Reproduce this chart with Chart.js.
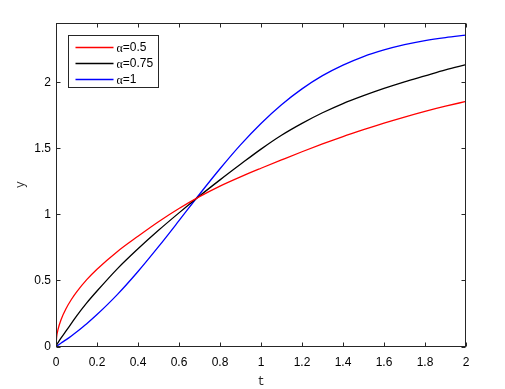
<!DOCTYPE html>
<html>
<head>
<meta charset="utf-8">
<script src="https://cdn.jsdelivr.net/npm/chart.js@4.4.0/dist/chart.umd.min.js"></script>
<style>
  html, body { margin: 0; padding: 0; background: #fff; }
  #wrap { width: 505px; height: 389px; position: relative; }
</style>
</head>
<body>
<div id="wrap"><canvas id="plot" width="505" height="389"></canvas></div>
<script>
// ---------------- DATA ----------------
const seriesLabels = ["\u03b1=0.5", "\u03b1=0.75", "\u03b1=1"];
const seriesColors = ["#ff0000", "#000000", "#0000ff"];

const tValues = [0, 0.003, 0.01, 0.025, 0.05, 0.075, 0.1, 0.15, 0.2, 0.3, 0.4, 0.5, 0.6, 0.7, 0.8, 0.9,
                 1.0, 1.1, 1.2, 1.3, 1.4, 1.5, 1.6, 1.7, 1.8, 1.9, 2.0];
const yAlpha05 = [0, 0.07, 0.129, 0.205, 0.29, 0.356, 0.412, 0.506, 0.585, 0.72, 0.835, 0.945, 1.045,
                  1.135, 1.215, 1.285, 1.35, 1.413, 1.475, 1.534, 1.59, 1.642, 1.692, 1.738, 1.781, 1.82, 1.856];
const yAlpha075 = [0, 0.012, 0.03, 0.065, 0.12, 0.175, 0.23, 0.33, 0.42, 0.59, 0.74, 0.88, 1.012, 1.14,
                   1.262, 1.38, 1.495, 1.6, 1.69, 1.77, 1.84, 1.9, 1.955, 2.005, 2.05, 2.095, 2.135];
const yAlpha1 = [0, 0.003, 0.01, 0.026, 0.052, 0.08, 0.11, 0.173, 0.242, 0.395, 0.568, 0.756, 0.953, 1.153,
                 1.346, 1.527, 1.689, 1.831, 1.951, 2.051, 2.131, 2.196, 2.246, 2.286, 2.317, 2.34, 2.358];

const xTicks = [0, 0.2, 0.4, 0.6, 0.8, 1, 1.2, 1.4, 1.6, 1.8, 2];
const yTicks = [0, 0.5, 1, 1.5, 2];

// ---------------- HELPERS ----------------
const toPoints = ys => tValues.map((t, i) => ({ x: t, y: ys[i] }));
const axisColor = "#262626";

const seriesData = [yAlpha05, yAlpha075, yAlpha1];

// box, inward ticks on all four sides, and the legend
const matlabBox = {
  id: "matlabBox",
  afterDatasetsDraw(chart) {
    const { ctx, chartArea: a, scales } = chart;
    const L = Math.round(a.left) + 0.5, R = Math.round(a.right) - 0.5;
    const T = Math.round(a.top) + 0.5, B = Math.round(a.bottom) - 0.5;
    const tick = 4;
    ctx.save();
    ctx.strokeStyle = axisColor;
    ctx.lineWidth = 1;
    ctx.strokeRect(L, T, R - L, B - T);
    ctx.beginPath();
    xTicks.forEach(v => {
      const px = Math.round(scales.x.getPixelForValue(v)) + 0.5;
      ctx.moveTo(px, B); ctx.lineTo(px, B - tick);
      ctx.moveTo(px, T); ctx.lineTo(px, T + tick);
    });
    yTicks.forEach(v => {
      const py = Math.round(scales.y.getPixelForValue(v)) + 0.5;
      ctx.moveTo(L, py); ctx.lineTo(L + tick, py);
      ctx.moveTo(R, py); ctx.lineTo(R - tick, py);
    });
    ctx.stroke();

    // legend in the upper-left corner of the axes
    const lx = L + 12, ly = T + 12, lw = 90, lh = 52;
    ctx.fillStyle = "#fff";
    ctx.fillRect(lx, ly, lw, lh);
    ctx.strokeRect(lx, ly, lw, lh);
    chart.data.datasets.forEach((ds, i) => {
      const y = Math.round(ly + 11 + i * 16) + 0.5;
      ctx.strokeStyle = ds.borderColor;
      ctx.lineWidth = 1.3;
      ctx.beginPath();
      ctx.moveTo(lx + 7, y);
      ctx.lineTo(lx + 45, y);
      ctx.stroke();
      const [sym, rest] = ds.label.split("=");
      ctx.fillStyle = "#000";
      ctx.textBaseline = "middle";
      ctx.font = "12px 'Liberation Serif'";
      ctx.fillText(sym, lx + 48, y + 1);
      const w = ctx.measureText(sym).width;
      ctx.font = "12px 'Liberation Sans'";
      ctx.fillText("=" + rest, lx + 48 + w, y);
    });
    ctx.restore();
  }
};

new Chart(document.getElementById("plot"), {
  type: "line",
  data: {
    datasets: seriesLabels.map((label, i) => ({
      label,
      data: toPoints(seriesData[i]),
      borderColor: seriesColors[i],
      backgroundColor: seriesColors[i],
      borderWidth: 1.3,
      pointRadius: 0,
      fill: false,
      cubicInterpolationMode: "monotone"
    }))
  },
  options: {
    responsive: false,
    animation: false,
    layout: { padding: { left: 0, right: 39, top: 23, bottom: 0 } },
    plugins: { legend: { display: false }, tooltip: { enabled: false } },
    scales: {
      x: {
        type: "linear",
        min: 0,
        max: 2,
        grid: { display: false, drawTicks: false },
        border: { display: false },
        afterBuildTicks: s => { s.ticks = xTicks.map(v => ({ value: v })); },
        afterFit: s => { s.height = 42.5; },
        ticks: {
          color: "#000",
          padding: 9,
          maxRotation: 0,
          font: { family: "'Liberation Sans'", size: 12 },
          callback: v => String(v)
        },
        title: {
          display: true,
          text: "t",
          color: axisColor,
          padding: { top: 0, bottom: 0 },
          font: { family: "'Liberation Mono'", size: 12 }
        }
      },
      y: {
        type: "linear",
        min: 0,
        max: 2.45,
        grid: { display: false, drawTicks: false },
        border: { display: false },
        afterBuildTicks: s => { s.ticks = yTicks.map(v => ({ value: v })); },
        afterFit: s => { s.width = 56; },
        ticks: {
          color: "#000",
          padding: 5,
          font: { family: "'Liberation Sans'", size: 12 },
          callback: v => String(v)
        },
        title: {
          display: true,
          text: "y",
          color: axisColor,
          padding: { top: 14, bottom: 0 },
          font: { family: "'Liberation Mono'", size: 12 }
        }
      }
    }
  },
  plugins: [matlabBox]
});
</script>
</body>
</html>
